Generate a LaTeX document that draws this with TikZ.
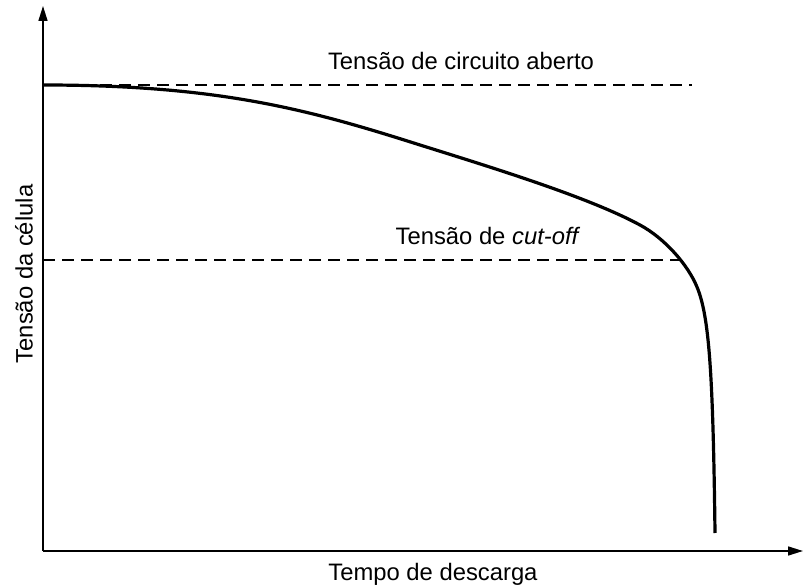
\documentclass[tikz,border=0pt]{standalone}
\usepackage{fontspec}
\setmainfont{Liberation Sans}
\usetikzlibrary{arrows.meta, positioning}

\begin{document}
\begin{tikzpicture}[x=0.5pt,y=-0.5pt,>={Triangle[length=7.5pt,width=4.5pt]},
                    font=\fontsize{11.9}{14}\selectfont]
  \tikzstyle{axis}=[line width=0.8pt,->]
  \tikzstyle{level}=[line width=1.25pt,dash pattern=on 6pt off 3.5pt]
  \tikzstyle{discharge}=[line width=1.6pt,line join=round]
  \useasboundingbox (0,0) rectangle (803,587);

  \coordinate (O)    at (43,551);
  \coordinate (ytip) at (43,6);
  \coordinate (xtip) at (803,551);
  \coordinate (voc)  at (43,85);
  \coordinate (voce) at (692,85);
  \coordinate (vco)  at (43,260);
  \coordinate (vcoe) at (684,260);
  \coordinate (knee) at (420,145);
  \coordinate (bend) at (640,225);
  \coordinate (drop) at (697,287);
  \coordinate (vend) at (715,533);

  \node (loc) at (461,61)  {Tensão de circuito aberto};
  \node (lco) at (488,236) {Tensão de \textit{cut-off}};
  \node (lx)  at (433,574) {Tempo de descarga};
  \node[rotate=90] (ly) at (24,274) {Tensão da célula};

  \draw[axis] (O) -- (ytip);
  \draw[axis] (O) -- (xtip);
  \draw[level] (voc) -- (voce);
  \draw[level] (vco) -- (vcoe);
  \draw[discharge] (voc) .. controls (220,85) and (310,110) .. (knee)
    .. controls (500,170) and (590,198) .. (bend)
    .. controls (665,238.5) and (688,265) .. (drop)
    .. controls (709,316) and (713,370) .. (vend);
\end{tikzpicture}
\end{document}
